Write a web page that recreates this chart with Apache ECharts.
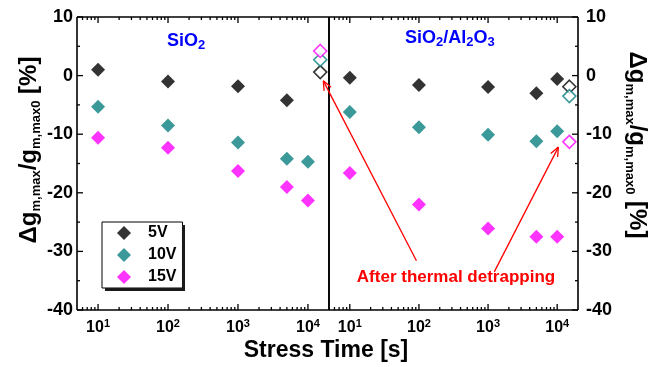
<!DOCTYPE html>
<html><head><meta charset="utf-8">
<script src="https://cdn.jsdelivr.net/npm/echarts@6/dist/echarts.min.js"></script>
<style>html,body{margin:0;padding:0;background:#fff}#c{width:667px;height:367px}</style>
</head><body><div id="c"></div>
<script>
// ---- data ----
const stressTimes = [10, 100, 1000, 5000, 10000];
const detrapTime = 15000;
const seriesNames = ['5V', '10V', '15V'];
const seriesColors = ['#000000', '#0a8080', '#ff00ff'];
// SiO2 panel (left)
const sio2_5V  = [1.0, -1.0, -1.8, -4.2, null];
const sio2_10V = [-5.3, -8.5, -11.4, -14.2, -14.7];
const sio2_15V = [-10.6, -12.3, -16.3, -19.0, -21.3];
const sio2_detrap = [0.6, 2.7, 4.2];          // 5V, 10V, 15V after thermal detrapping
// SiO2/Al2O3 panel (right)
const hk_5V  = [-0.35, -1.6, -1.95, -3.0, -0.6];
const hk_10V = [-6.2, -8.8, -10.1, -11.2, -9.5];
const hk_15V = [-16.6, -22.0, -26.1, -27.5, -27.5];
const hk_detrap = [-1.9, -3.5, -11.3];
// ticks
const xMajorTicks = [10, 100, 1000, 10000];
const xMajorExp = ['1', '2', '3', '4'];
const xMinorTicks = [6,7,8,9,20,30,40,50,60,70,80,90,200,300,400,500,600,700,800,900,2000,3000,4000,5000,6000,7000,8000,9000];
const yMajorTicks = [-40, -30, -20, -10, 0, 10];
const yMinorTicks = [-35, -25, -15, -5, 5];
const yMin = -40, yMax = 10, yStep = 10;
const xMin = 5, xMax = 20000;

const FONT = 'Liberation Sans, Arial, sans-serif';
const chart = echarts.init(document.getElementById('c'));

const G0 = {left: 77, top: 17, width: 252, height: 293};
const G1 = {left: 329, top: 17, width: 249, height: 293};

function pairs(vals) {
  const out = [];
  vals.forEach((v, i) => { if (v !== null) out.push([stressTimes[i], v]); });
  return out;
}
function xAxisDef(grid) {
  return {
    type: 'log', logBase: 10, gridIndex: grid, position: 'bottom', min: xMin, max: xMax,
    axisLine: {show: false, onZero: false}, splitLine: {show: false}, axisTick: {show: false},
    axisLabel: {
      show: true, customValues: xMajorTicks, margin: 8,
      formatter: v => '{b|10}{s|' + xMajorExp[xMajorTicks.indexOf(v)] + '}',
      rich: {
        b: {fontSize: 16, fontWeight: 'bold', fontFamily: FONT, color: '#000', lineHeight: 19},
        s: {fontSize: 11, fontWeight: 'bold', fontFamily: FONT, color: '#000', verticalAlign: 'top', lineHeight: 9}
      }
    }
  };
}
function yAxisDef(grid, pos) {
  return {
    type: 'value', gridIndex: grid, position: pos, min: yMin, max: yMax, interval: yStep,
    axisLine: {show: false, onZero: false}, splitLine: {show: false}, axisTick: {show: false}, minorTick: {show: false},
    axisLabel: {fontSize: 18, fontWeight: 'bold', fontFamily: FONT, color: '#000', margin: pos === 'left' ? 4 : 8}
  };
}
function filled(name, color, vals, xi, yi) {
  return {type: 'scatter', name: name, xAxisIndex: xi, yAxisIndex: yi, symbol: 'diamond', symbolSize: 14,
    itemStyle: {color: color}, data: pairs(vals), emphasis: {disabled: true}, z: 3};
}
function open(name, color, val, xi, yi) {
  return {type: 'scatter', name: name, xAxisIndex: xi, yAxisIndex: yi, symbol: 'diamond', symbolSize: 13,
    itemStyle: {color: '#fff', borderColor: color, borderWidth: 1.6}, data: [[detrapTime, val]],
    emphasis: {disabled: true}, z: 3};
}

const option = {
  animation: false,
  grid: [Object.assign({}, G0), Object.assign({}, G1)],
  xAxis: [xAxisDef(0), xAxisDef(1)],
  yAxis: [yAxisDef(0, 'left'), yAxisDef(1, 'right')],
  legend: {
    data: seriesNames, left: 102, top: 222, orient: 'vertical', selectedMode: false, z: 6,
    padding: [2, 6, 2, 15], itemGap: 4, itemWidth: 14, itemHeight: 14,
    borderColor: '#000', borderWidth: 1, backgroundColor: '#fff',
    textStyle: {fontSize: 16, fontWeight: 'bold', fontFamily: FONT, color: '#000', padding: [0, 0, 0, 12], lineHeight: 18}
  },
  series: [
    filled(seriesNames[0], seriesColors[0], sio2_5V, 0, 0),
    filled(seriesNames[1], seriesColors[1], sio2_10V, 0, 0),
    filled(seriesNames[2], seriesColors[2], sio2_15V, 0, 0),
    open('5V detrapped', seriesColors[0], sio2_detrap[0], 0, 0),
    open('10V detrapped', seriesColors[1], sio2_detrap[1], 0, 0),
    open('15V detrapped', seriesColors[2], sio2_detrap[2], 0, 0),
    filled(seriesNames[0], seriesColors[0], hk_5V, 1, 1),
    filled(seriesNames[1], seriesColors[1], hk_10V, 1, 1),
    filled(seriesNames[2], seriesColors[2], hk_15V, 1, 1),
    open('5V detrapped', seriesColors[0], hk_detrap[0], 1, 1),
    open('10V detrapped', seriesColors[1], hk_detrap[1], 1, 1),
    open('15V detrapped', seriesColors[2], hk_detrap[2], 1, 1)
  ]
};
chart.setOption(option);

const graphics = [];
function px(g, x, y) { return chart.convertToPixel({gridIndex: g}, [x, y]); }
function seg(a, b, w, color, z, zl) {
  graphics.push({type: 'line', silent: true, shape: {x1: a[0], y1: a[1], x2: b[0], y2: b[1]},
    style: {stroke: color || '#000', lineWidth: w}, z: z || 50, zlevel: zl === undefined ? 1 : zl});
}
// frames and ticks of both panels, placed through the axes' scales (own layer on top)
[0, 1].forEach(g => {
  const tl = px(g, xMin, yMax), br = px(g, xMax, yMin);
  seg([tl[0], tl[1]], [br[0], tl[1]], 1.6);
  seg([tl[0], br[1]], [br[0], br[1]], 1.6);
  seg([tl[0], tl[1]], [tl[0], br[1]], 1.6);
  seg([br[0], tl[1]], [br[0], br[1]], 1.6);
  [[xMajorTicks, 6], [xMinorTicks, 3]].forEach(([vals, len]) => {
    vals.forEach(t => {
      const b = px(g, t, yMin), tp = px(g, t, yMax);
      seg(b, [b[0], b[1] - len], 1.3);
      seg(tp, [tp[0], tp[1] + len], 1.3);
    });
  });
  const xEdge = g === 0 ? xMin : xMax, dir = g === 0 ? 1 : -1;
  [[yMajorTicks, 6], [yMinorTicks, 3]].forEach(([vals, len]) => {
    vals.forEach(v => { const p = px(g, xEdge, v); seg(p, [p[0] + dir * len, p[1]], 1.3); });
  });
});
// legend drop shadow (right and bottom strips)
seg([183.5, 225], [183.5, 291], 3, '#1a1a1a');
seg([105, 289.5], [185, 289.5], 3, '#1a1a1a');

const yTitleRich = {
  a: {fontSize: 24, fontWeight: 'bold', fontFamily: FONT, fill: '#000', lineHeight: 28},
  s: {fontSize: 13, fontWeight: 'bold', fontFamily: FONT, fill: '#000', verticalAlign: 'bottom', lineHeight: 8}
};
const yTitle = '{a|\u0394g}{s|m,max}{a|/g}{s|m,max0}{a| [%]}';
graphics.push({type: 'text', x: 29, y: 150, rotation: Math.PI / 2,
  style: {text: yTitle, rich: yTitleRich, align: 'center', verticalAlign: 'middle'}});
graphics.push({type: 'text', x: 637, y: 145, rotation: -Math.PI / 2,
  style: {text: yTitle, rich: yTitleRich, align: 'center', verticalAlign: 'middle'}});
graphics.push({type: 'text', x: 326, y: 351,
  style: {text: 'Stress Time [s]', font: 'bold 23px ' + FONT, fill: '#000', align: 'center', verticalAlign: 'middle'}});
const panelRich = {
  a: {fontSize: 18, fontWeight: 'bold', fontFamily: FONT, fill: '#0000ff', lineHeight: 22},
  s: {fontSize: 13, fontWeight: 'bold', fontFamily: FONT, fill: '#0000ff', verticalAlign: 'bottom', lineHeight: 10}
};
graphics.push({type: 'text', x: 167, y: 41,
  style: {text: '{a|SiO}{s|2}', rich: panelRich, align: 'left', verticalAlign: 'middle'}});
graphics.push({type: 'text', x: 405, y: 38,
  style: {text: '{a|SiO}{s|2}{a|/Al}{s|2}{a|O}{s|3}', rich: panelRich, align: 'left', verticalAlign: 'middle'}});
graphics.push({type: 'text', x: 456, y: 277,
  style: {text: 'After thermal detrapping', font: 'bold 17px ' + FONT, fill: '#ff0000', align: 'center', verticalAlign: 'middle'}});

// annotation arrows: [gridIndex, [t, value]] start -> end
const arrows = [
  {from: [1, [92, -31.6]], to: [0, [16600, -0.9]]},
  {from: [1, [1230, -33.5]], to: [1, [10400, -12.2]]}
];
arrows.forEach(a => {
  const p1 = px(a.from[0], a.from[1][0], a.from[1][1]);
  const p2 = px(a.to[0], a.to[1][0], a.to[1][1]);
  seg(p1, p2, 1.3, '#ff0000');
  const ang = Math.atan2(p1[1] - p2[1], p1[0] - p2[0]);
  const L = 10, da = 0.4;
  seg(p2, [p2[0] + L * Math.cos(ang + da), p2[1] + L * Math.sin(ang + da)], 1.3, '#ff0000');
  seg(p2, [p2[0] + L * Math.cos(ang - da), p2[1] + L * Math.sin(ang - da)], 1.3, '#ff0000');
});
chart.setOption({graphic: graphics});
</script>
</body></html>
